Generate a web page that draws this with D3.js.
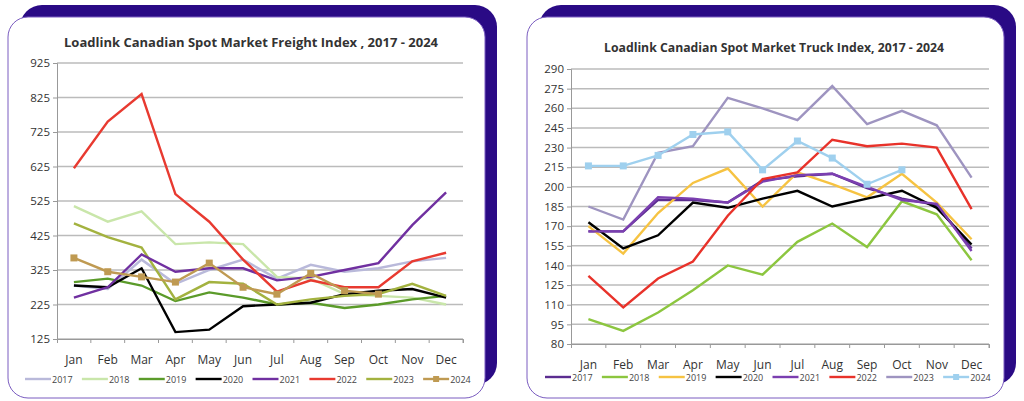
<!DOCTYPE html>
<html><head><meta charset="utf-8">
<script src="https://cdn.jsdelivr.net/npm/d3@7"></script>
<style>body{margin:0;background:#fff;font-family:"Open Sans","Liberation Sans",Arial,sans-serif}</style>
</head><body><svg id="c" width="1024" height="401"></svg>
<script>
const months=["Jan","Feb","Mar","Apr","May","Jun","Jul","Aug","Sep","Oct","Nov","Dec"];
const years=["2017","2018","2019","2020","2021","2022","2023","2024"];
const freightTicks=[125,225,325,425,525,625,725,825,925];
const truckTicks=[80,95,110,125,140,155,170,185,200,215,230,245,260,275,290];
const freight2017=[280,270,355,285,325,355,300,340,320,330,350,360];
const freight2018=[510,465,495,400,405,400,305,300,255,250,245,225];
const freight2019=[290,300,280,235,260,245,225,230,215,225,240,250];
const freight2020=[280,275,330,145,152,220,225,230,255,265,270,245];
const freight2021=[245,275,370,320,330,330,295,305,325,345,455,550];
const freight2022=[620,755,835,545,465,355,262,295,275,275,350,375];
const freight2023=[460,420,390,240,290,285,225,240,250,255,285,250];
const freight2024=[360,320,305,290,345,275,255,315,265,255];
const truck2017=[166,166,190,190,188,205,208,210,199,191,186,153];
const truck2018=[99,90,104,121,140,133,158,172,154,189,179,144];
const truck2019=[170,149,180,203,214,185,211,202,192,210,188,160];
const truck2020=[173,153,163,188,184,191,197,185,191,197,184,156];
const truck2021=[166,166,192,191,188,204,209,210,200,190,187,151];
const truck2022=[132,108,130,143,178,206,211,236,231,233,230,183];
const truck2023=[185,175,226,231,268,260,251,277,248,258,247,207];
const truck2024=[216,216,224,240,242,213,235,222,202,213];
const freightColors=["#b9b9da","#c9e6aa","#5b9b2a","#000000","#7030a0","#e83a30","#a3b23f","#bf9a52"];
const truckColors=["#5b2d90","#8cc63f","#f6c342","#000000","#7b3fb0","#e8322a","#9e94c0","#9fd0ee"];
const svg=d3.select("#c");
const FF="'Open Sans','Liberation Sans',sans-serif";
function panel(o){
  const g=svg.append("g");
  g.append("rect").attr("x",o.cx+12).attr("y",5).attr("width",477).attr("height",380).attr("rx",22).attr("fill","#2a0a85");
  g.append("rect").attr("x",o.cx).attr("y",17).attr("width",477).attr("height",381).attr("rx",20).attr("fill","#fff").attr("stroke","#7a5cc0").attr("stroke-width",1);
  g.append("text").attr("x",o.tx).attr("y",o.ty).attr("font-weight","bold").attr("font-size",12.5).attr("fill","#333")
    .attr("textLength",o.tw).attr("lengthAdjust","spacingAndGlyphs").text(o.title);
  const x=d3.scaleBand().domain(months).range([o.x0,o.x1]);
  const y=d3.scaleLinear().domain(o.dom).range([o.y1,o.y0]);
  o.ticks.forEach(t=>{g.append("line").attr("x1",o.x0).attr("x2",o.x1).attr("y1",y(t)).attr("y2",y(t)).attr("stroke","#bbb").attr("stroke-width",1.5);});
  const ya=g.append("g").attr("transform",`translate(${o.x0},0)`).call(d3.axisLeft(y).tickValues(o.ticks).tickSize(4));
  ya.select(".domain").attr("stroke","#999");ya.selectAll("line").attr("stroke","#999");
  ya.selectAll("text").attr("font-size",11.5).attr("fill","#333").attr("font-family",FF);
  const xa=g.append("g").attr("transform",`translate(0,${o.y1})`).call(d3.axisBottom(x).tickSize(4).tickPadding(12));
  xa.select(".domain").attr("stroke","#999");xa.selectAll("line").attr("stroke","#999").attr("transform",`translate(${x.bandwidth()/2},0)`);
  xa.selectAll("text").attr("font-size",12).attr("fill","#333").attr("font-family",FF);
  const line=d3.line().x((d,i)=>x(months[i])+x.bandwidth()/2).y(d=>y(d));
  o.order.forEach(k=>{
    g.append("path").datum(o.series[k]).attr("d",line).attr("fill","none").attr("stroke",o.colors[k]).attr("stroke-width",2.4);
    if(k===7) g.selectAll(null).data(o.series[k]).enter().append("rect")
      .attr("x",(d,i)=>x(months[i])+x.bandwidth()/2-3.5).attr("y",d=>y(d)-3.5).attr("width",7).attr("height",7).attr("fill",o.colors[k]);
  });
  const lw=(o.lx1-o.lx0)/8;
  years.forEach((yr,i)=>{
    const lx=o.lx0+i*lw;
    g.append("line").attr("x1",lx).attr("x2",lx+26).attr("y1",o.ly).attr("y2",o.ly).attr("stroke",o.colors[i]).attr("stroke-width",2.4);
    if(i===7) g.append("rect").attr("x",lx+10).attr("y",o.ly-3).attr("width",6).attr("height",6).attr("fill",o.colors[i]);
    g.append("text").attr("x",lx+27).attr("y",o.ly+3.5).attr("font-size",9).attr("fill","#444").attr("font-family",FF).text(yr);
  });
}
panel({cx:8,tx:64,tw:374,ty:47,title:"Loadlink Canadian Spot Market Freight Index , 2017 - 2024",x0:57,x1:463,y0:63,y1:339,dom:[125,925],ticks:freightTicks,
  series:[freight2017,freight2018,freight2019,freight2020,freight2021,freight2022,freight2023,freight2024],colors:freightColors,order:[0,1,2,3,6,4,5,7],lx0:25,lx1:480,ly:379});
panel({cx:527,tx:604,tw:340,ty:52,title:"Loadlink Canadian Spot Market Truck Index, 2017 - 2024",x0:571,x1:989,y0:69,y1:344,dom:[80,290],ticks:truckTicks,
  series:[truck2017,truck2018,truck2019,truck2020,truck2021,truck2022,truck2023,truck2024],colors:truckColors,order:[0,1,2,3,4,5,6,7],lx0:545,lx1:1000,ly:377});
</script></body></html>
